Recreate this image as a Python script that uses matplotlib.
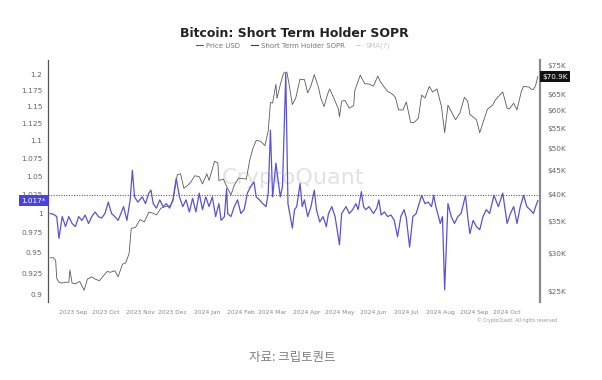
import matplotlib.pyplot as plt
import matplotlib.dates as mdates
from matplotlib.lines import Line2D
from matplotlib.ticker import FixedLocator, FuncFormatter, NullLocator
import pandas as pd

# Bitcoin price (USD, thousands)
price_dates = [
    "2023-08-11", "2023-08-14", "2023-08-16", "2023-08-17", "2023-08-19", "2023-08-22",
    "2023-08-25", "2023-08-28", "2023-08-29", "2023-08-31", "2023-09-03", "2023-09-07",
    "2023-09-11", "2023-09-14", "2023-09-18", "2023-09-21", "2023-09-25", "2023-09-29",
    "2023-10-02", "2023-10-05", "2023-10-09", "2023-10-12", "2023-10-16", "2023-10-19",
    "2023-10-22", "2023-10-24", "2023-10-28", "2023-11-01", "2023-11-05", "2023-11-09",
    "2023-11-13", "2023-11-16", "2023-11-20", "2023-11-24", "2023-11-28", "2023-12-01",
    "2023-12-05", "2023-12-08", "2023-12-11", "2023-12-15", "2023-12-18", "2023-12-21",
    "2023-12-25", "2023-12-28", "2024-01-01", "2024-01-03", "2024-01-08", "2024-01-11",
    "2024-01-12", "2024-01-16", "2024-01-19", "2024-01-23", "2024-01-26", "2024-01-30",
    "2024-02-02", "2024-02-06", "2024-02-09", "2024-02-12", "2024-02-15", "2024-02-19",
    "2024-02-23", "2024-02-26", "2024-02-28", "2024-03-01", "2024-03-04", "2024-03-05",
    "2024-03-08", "2024-03-11", "2024-03-14", "2024-03-16", "2024-03-19", "2024-03-22",
    "2024-03-26", "2024-03-30", "2024-04-02", "2024-04-05", "2024-04-08", "2024-04-12",
    "2024-04-14", "2024-04-17", "2024-04-20", "2024-04-22", "2024-04-26", "2024-04-30",
    "2024-05-01", "2024-05-03", "2024-05-06", "2024-05-10", "2024-05-14", "2024-05-15",
    "2024-05-20", "2024-05-24", "2024-05-28", "2024-06-01", "2024-06-05", "2024-06-07",
    "2024-06-11", "2024-06-14", "2024-06-18", "2024-06-21", "2024-06-24", "2024-06-28",
    "2024-07-01", "2024-07-05", "2024-07-08", "2024-07-12", "2024-07-15", "2024-07-18",
    "2024-07-22", "2024-07-25", "2024-07-29", "2024-08-02", "2024-08-05", "2024-08-08",
    "2024-08-12", "2024-08-15", "2024-08-19", "2024-08-23", "2024-08-26", "2024-08-28",
    "2024-09-03", "2024-09-06", "2024-09-10", "2024-09-13", "2024-09-18", "2024-09-20",
    "2024-09-27", "2024-10-01", "2024-10-03", "2024-10-07", "2024-10-10", "2024-10-14",
    "2024-10-16", "2024-10-21", "2024-10-23", "2024-10-25", "2024-10-27", "2024-10-29",
]
price_k = [
    29.4, 29.4, 29.0, 26.6, 26.1, 26.0,
    26.1, 26.1, 27.7, 26.0, 25.9, 26.2,
    25.1, 26.5, 26.8, 26.5, 26.3, 27.0,
    27.5, 27.4, 27.6, 26.8, 28.5, 28.7,
    30.0, 33.9, 34.1, 35.4, 35.0, 36.7,
    36.5, 36.2, 37.4, 37.7, 37.8, 38.7,
    44.0, 44.2, 41.2, 41.9, 42.7, 43.8,
    43.6, 42.1, 44.2, 42.8, 47.0, 46.6,
    42.8, 43.1, 41.6, 39.9, 41.8, 43.3,
    43.2, 43.1, 47.1, 50.0, 52.0, 51.8,
    50.7, 54.5, 62.5, 62.4, 68.3, 63.8,
    68.2, 72.1, 72.5, 68.4, 61.9, 63.8,
    70.0, 69.9, 65.5, 67.8, 71.6, 67.1,
    63.8, 61.3, 64.9, 66.8, 63.8, 60.6,
    58.3, 62.9, 63.2, 60.8, 61.6, 66.3,
    71.4, 68.5, 68.4, 67.7, 71.1, 69.4,
    67.3, 66.0, 65.2, 64.1, 60.3, 60.3,
    62.7, 56.7, 56.7, 57.9, 64.8, 63.9,
    67.6, 65.8, 66.8, 61.4, 54.0, 61.7,
    59.3, 57.5, 59.5, 64.1, 62.9, 59.0,
    57.5, 54.0, 57.6, 60.5, 61.8, 63.2,
    65.8, 60.8, 60.6, 62.3, 60.3, 66.0,
    67.6, 67.4, 66.7, 66.6, 67.9, 70.9,
]

# Short Term Holder SOPR
sopr_dates = [
    "2023-08-11", "2023-08-14", "2023-08-17", "2023-08-19", "2023-08-22", "2023-08-25",
    "2023-08-28", "2023-08-31", "2023-09-03", "2023-09-06", "2023-09-09", "2023-09-12",
    "2023-09-15", "2023-09-18", "2023-09-21", "2023-09-24", "2023-09-27", "2023-09-30",
    "2023-10-03", "2023-10-06", "2023-10-09", "2023-10-12", "2023-10-17", "2023-10-20",
    "2023-10-23", "2023-10-25", "2023-10-27", "2023-10-30", "2023-11-03", "2023-11-06",
    "2023-11-09", "2023-11-11", "2023-11-13", "2023-11-16", "2023-11-19", "2023-11-22",
    "2023-11-25", "2023-11-28", "2023-12-01", "2023-12-04", "2023-12-07", "2023-12-10",
    "2023-12-13", "2023-12-16", "2023-12-19", "2023-12-22", "2023-12-25", "2023-12-28",
    "2023-12-31", "2024-01-03", "2024-01-06", "2024-01-09", "2024-01-12", "2024-01-14",
    "2024-01-17", "2024-01-19", "2024-01-20", "2024-01-23", "2024-01-26", "2024-01-29",
    "2024-02-01", "2024-02-04", "2024-02-07", "2024-02-10", "2024-02-13", "2024-02-15",
    "2024-02-18", "2024-02-21", "2024-02-24", "2024-02-26", "2024-02-28", "2024-03-01",
    "2024-03-04", "2024-03-06", "2024-03-08", "2024-03-10", "2024-03-13", "2024-03-15",
    "2024-03-16", "2024-03-19", "2024-03-21", "2024-03-23", "2024-03-26", "2024-03-28",
    "2024-03-30", "2024-04-02", "2024-04-05", "2024-04-08", "2024-04-10", "2024-04-13",
    "2024-04-16", "2024-04-19", "2024-04-21", "2024-04-24", "2024-04-27", "2024-05-01",
    "2024-05-03", "2024-05-07", "2024-05-10", "2024-05-13", "2024-05-16", "2024-05-18",
    "2024-05-21", "2024-05-23", "2024-05-25", "2024-05-28", "2024-06-01", "2024-06-04",
    "2024-06-06", "2024-06-08", "2024-06-11", "2024-06-14", "2024-06-17", "2024-06-20",
    "2024-06-23", "2024-06-26", "2024-06-29", "2024-07-01", "2024-07-04", "2024-07-07",
    "2024-07-10", "2024-07-15", "2024-07-18", "2024-07-21", "2024-07-24", "2024-07-26",
    "2024-07-28", "2024-08-01", "2024-08-03", "2024-08-05", "2024-08-08", "2024-08-11",
    "2024-08-14", "2024-08-17", "2024-08-20", "2024-08-24", "2024-08-26", "2024-08-28",
    "2024-08-31", "2024-09-03", "2024-09-06", "2024-09-09", "2024-09-12", "2024-09-15",
    "2024-09-19", "2024-09-23", "2024-09-25", "2024-09-27", "2024-10-01", "2024-10-04",
    "2024-10-07", "2024-10-10", "2024-10-13", "2024-10-16", "2024-10-19", "2024-10-22",
    "2024-10-25", "2024-10-27", "2024-10-29",
]
sopr = [
    1.000, 0.999, 0.996, 0.968, 0.996, 0.983,
    0.996, 0.987, 0.983, 0.996, 0.991, 0.998,
    0.987, 0.996, 1.002, 0.996, 0.994, 1.000,
    1.015, 1.000, 0.996, 0.991, 1.009, 0.991,
    1.018, 1.058, 1.022, 1.015, 1.022, 1.013,
    1.027, 1.031, 1.013, 1.007, 1.018, 1.009,
    1.013, 1.007, 1.018, 1.047, 1.022, 1.009,
    1.018, 1.002, 1.020, 1.002, 1.027, 1.005,
    1.022, 1.009, 1.022, 0.996, 1.013, 0.991,
    0.996, 1.033, 1.000, 0.996, 1.009, 1.018,
    1.000, 1.005, 1.027, 1.036, 1.042, 1.022,
    1.018, 1.013, 1.009, 1.027, 1.115, 1.022,
    1.068, 1.045, 1.022, 1.036, 1.201, 1.013,
    1.005, 0.981, 1.005, 1.009, 1.040, 1.009,
    1.018, 0.996, 1.009, 1.031, 1.005, 0.989,
    0.996, 0.983, 1.000, 1.009, 0.996, 0.960,
    1.000, 1.009, 1.000, 1.005, 1.013, 1.005,
    1.029, 1.009, 1.005, 1.009, 1.000, 1.007,
    1.018, 0.998, 1.002, 0.996, 0.998, 0.991,
    0.970, 0.996, 1.005, 0.994, 0.957, 0.996,
    1.000, 1.024, 1.013, 1.015, 1.009, 1.024,
    1.009, 0.987, 0.996, 0.905, 1.013, 0.996,
    0.987, 0.996, 1.000, 1.024, 0.996, 0.974,
    0.991, 0.983, 0.979, 0.996, 1.005, 1.000,
    1.024, 1.009, 1.018, 1.027, 0.987, 1.000,
    1.009, 0.987, 1.009, 1.024, 1.009, 1.005,
    1.000, 1.009, 1.017,
]

left_ticks = [0.9, 0.925, 0.95, 0.975, 1.0, 1.025, 1.05, 1.075, 1.1, 1.125, 1.15, 1.175, 1.2]
right_ticks = [25, 30, 35, 40, 45, 50, 55, 60, 65, 75]

purple = '#5a52d6'

fig = plt.figure(figsize=(6.02, 3.8), dpi=100)
ax = fig.add_axes([0.0797, 0.205, 0.8173, 0.637])
ax2 = ax.twinx()
ax.set_zorder(ax2.get_zorder() + 1)
ax.patch.set_visible(False)

p_dates = pd.to_datetime(price_dates)
s_dates = pd.to_datetime(sopr_dates)

# watermark sits under both lines
ax2.text(0.499, 0.512, 'CryptoQuant', transform=ax2.transAxes, ha='center', va='center',
         fontsize=16, color='#e2e2e2', zorder=0)

ax2.plot(p_dates, price_k, color='#5a5a5a', lw=0.6)
ax.plot(s_dates, sopr, color=purple, lw=0.9)
ax.axhline(1.024, color='#e4282e', lw=0.8, ls=(0, (1.0, 1.3)))

# left axis (log)
ax.set_yscale('log')
ax.set_ylim(0.8906, 1.2222)
ax.yaxis.set_major_locator(FixedLocator(left_ticks))
ax.yaxis.set_minor_locator(NullLocator())
ax.yaxis.set_major_formatter(FuncFormatter(lambda v, p: '%g' % v))

# right axis (log)
ax2.set_yscale('log')
ax2.set_ylim(23.7, 76.85)
ax2.yaxis.set_major_locator(FixedLocator(right_ticks))
ax2.yaxis.set_minor_locator(NullLocator())
ax2.yaxis.set_major_formatter(FuncFormatter(lambda v, p: '$%dK' % v))

ax.set_xlim(pd.Timestamp('2023-08-09'), pd.Timestamp('2024-10-31'))
ax.xaxis.set_major_locator(mdates.MonthLocator())
ax.xaxis.set_major_formatter(mdates.DateFormatter('%Y %b'))

ax.tick_params(axis='y', length=0, pad=4, labelsize=5.3, labelcolor='#666666')
ax.tick_params(axis='x', length=0, pad=6, labelsize=4.3, labelcolor='#888888')
ax2.tick_params(axis='y', length=0, pad=5, labelsize=5.3, labelcolor='#666666')

for a in (ax, ax2):
    for s in ['top', 'bottom', 'left', 'right']:
        a.spines[s].set_visible(False)
ax.spines['left'].set_visible(True)
ax.spines['left'].set_color('#555555')
ax.spines['left'].set_linewidth(0.9)
ax2.spines['right'].set_visible(True)
ax2.spines['right'].set_color('#8a8a8a')
ax2.spines['right'].set_linewidth(1.6)

# value boxes
ax.text(-0.004, 1.017, '1.017*', transform=ax.get_yaxis_transform(), ha='right', va='center',
        fontsize=5.2, color='white', zorder=10,
        bbox=dict(boxstyle='square,pad=0.35', fc='#4a42e0', ec='none'))
ax2.text(1.004, 70.9, '$70.9K', transform=ax2.get_yaxis_transform(), ha='left', va='center',
         fontsize=5.2, color='white', zorder=10,
         bbox=dict(boxstyle='square,pad=0.3', fc='#111111', ec='none'))

fig.text(0.489, 0.913, 'Bitcoin: Short Term Holder SOPR', ha='center', va='center',
         fontsize=9, fontweight='bold', color='#222222')

handles = [
    Line2D([], [], color='#5a5a5a', lw=0.8),
    Line2D([], [], color='#333366', lw=0.8),
    Line2D([], [], color='#cccccc', lw=0.8, ls='--'),
]
leg = fig.legend(handles, ['Price USD', 'Short Term Holder SOPR', 'SMA(?)'], loc='center',
                 bbox_to_anchor=(0.487, 0.879), ncol=3, frameon=False, fontsize=5,
                 handlelength=1.0, handletextpad=0.4, columnspacing=1.6)
for t, c in zip(leg.get_texts(), ['#777777', '#777777', '#c8c8c8']):
    t.set_color(c)

fig.text(0.926, 0.158, '\u00a9 CryptoQuant. All rights reserved', ha='right', va='center',
         fontsize=3.3, color='#999999')

fig.text(0.486, 0.06, '자료: 크립토퀀트', ha='center', va='center', fontsize=9,
         color='#808080', family=['Noto Sans CJK KR', 'DejaVu Sans'])

fig.savefig('out.png', dpi=100)
